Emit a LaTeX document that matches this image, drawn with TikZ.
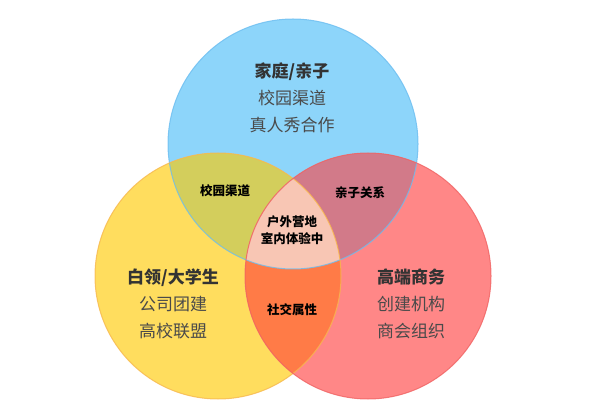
\documentclass[tikz,border=0pt]{standalone}
\usepackage{fontspec}
\setmainfont{Noto Sans CJK SC}
\newfontfamily\cjkblack{Noto Sans CJK SC}[UprightFont=* Black]
\definecolor{bluefill}{HTML}{8DD5FA}
\definecolor{blueline}{HTML}{6BBDF0}
\definecolor{yelfill}{HTML}{FFDD5E}
\definecolor{yelline}{HTML}{F7B84E}
\definecolor{redfill}{HTML}{FF8787}
\definecolor{redline}{HTML}{F06262}
\definecolor{ybfill}{HTML}{D3CE5C}
\definecolor{brfill}{HTML}{D27A89}
\definecolor{yrfill}{HTML}{FF7B47}
\definecolor{cfill}{HTML}{F8C6B4}
\definecolor{titlecol}{HTML}{333333}
\definecolor{subcol}{HTML}{4A4A4A}
\begin{document}
\begin{tikzpicture}[x=1pt,y=-1pt,
  grouptext/.style={align=center,inner sep=0pt,font=\fontsize{17}{27}\selectfont,text=subcol},
  overlaptext/.style={align=center,inner sep=0pt,font=\cjkblack\fontsize{12.5}{17}\selectfont,text=black}]
\useasboundingbox (0,0) rectangle (591,411);
\coordinate (B) at (293,144);
\coordinate (Y) at (218,276);
\coordinate (R) at (368,276);
\def\rb{125}
\def\ry{123}
% base fills
\fill[bluefill] (B) circle[radius=\rb];
\fill[yelfill] (Y) circle[radius=\ry];
\fill[redfill] (R) circle[radius=\ry];
% pairwise overlaps
\begin{scope}
  \clip (B) circle[radius=\rb];
  \fill[ybfill] (Y) circle[radius=\ry];
  \fill[brfill] (R) circle[radius=\ry];
\end{scope}
\begin{scope}
  \clip (Y) circle[radius=\ry];
  \fill[yrfill] (R) circle[radius=\ry];
  \clip (R) circle[radius=\ry];
  \fill[cfill] (B) circle[radius=\rb];
\end{scope}
% outlines
\draw[blueline,line width=1pt,opacity=0.8] (B) circle[radius=\rb];
\draw[yelline,line width=1pt,opacity=0.8] (Y) circle[radius=\ry];
\draw[redline,line width=1pt,opacity=0.8] (R) circle[radius=\ry];
% texts
\node[grouptext] (top) at (292,98) {{\bfseries\color{titlecol}家庭/亲子}\\校园渠道\\真人秀合作};
\node[grouptext] (left) at (173,304) {{\bfseries\color{titlecol}白领/大学生}\\公司团建\\高校联盟};
\node[grouptext] (right) at (411,304) {{\bfseries\color{titlecol}高端商务}\\创建机构\\商会组织};
\node[overlaptext] (yb) at (225,191) {校园渠道};
\node[overlaptext] (br) at (360,193) {亲子关系};
\node[overlaptext] (mid) at (292,230) {户外营地\\室内体验中};
\node[overlaptext] (yr) at (292,310) {社交属性};
\end{tikzpicture}
\end{document}
